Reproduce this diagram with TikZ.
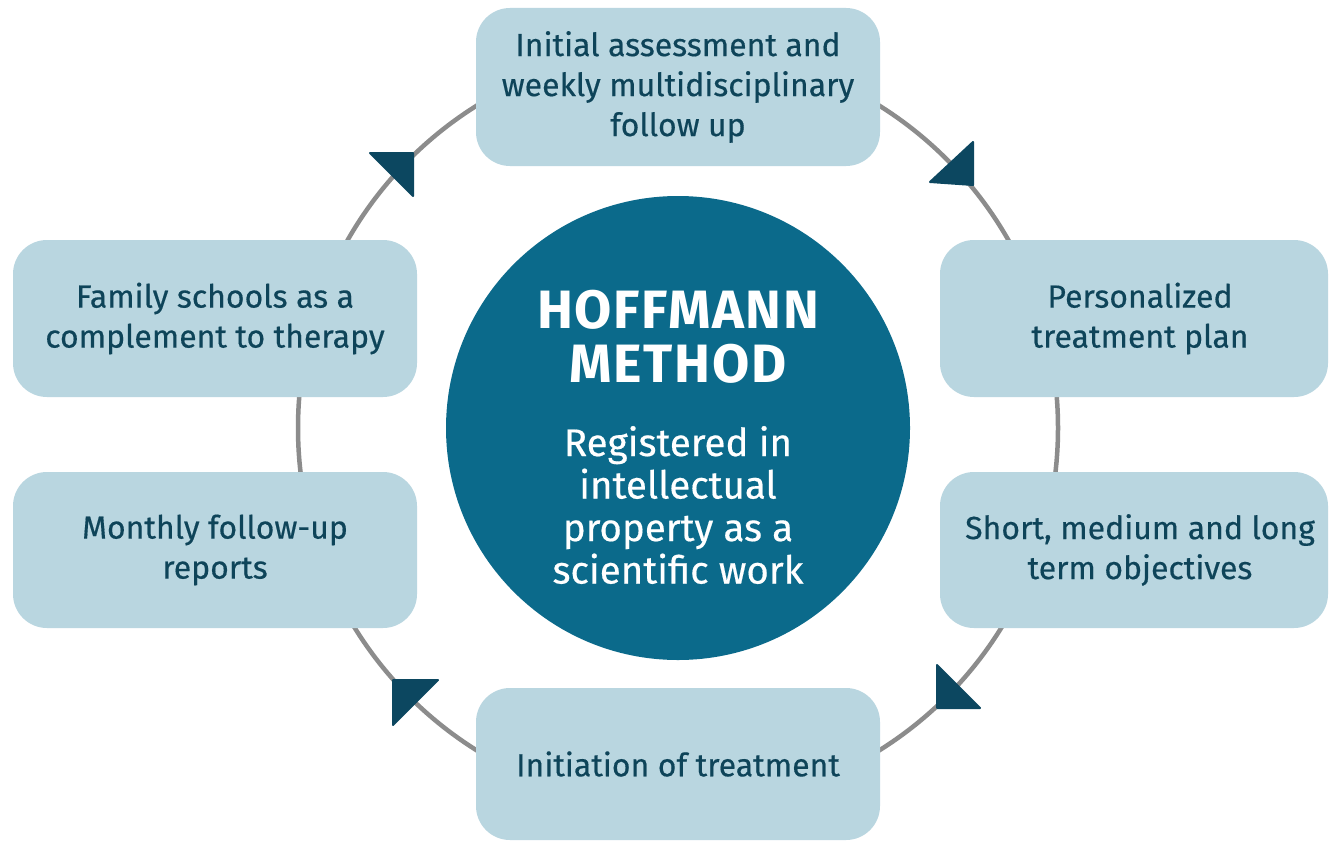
\documentclass[tikz,border=0pt]{standalone}
\usepackage{fontspec}
\setmainfont{Fira Sans}[FakeBold=0.4]
\newfontfamily\titlefont{Fira Sans}[LetterSpace=3]
\definecolor{boxfill}{HTML}{B9D6E0}
\definecolor{hubfill}{HTML}{0B6A8B}
\definecolor{arrowfill}{HTML}{0C4760}
\definecolor{txt}{HTML}{0E4459}
\definecolor{ring}{HTML}{8C8C8C}
\tikzset{
  stagebox/.style={rectangle, rounded corners=34pt, fill=boxfill, inner sep=0pt,
    minimum width=404pt, align=center, text=txt,
    font=\fontsize{32pt}{40pt}\selectfont},
  tri/.style={fill=arrowfill, draw=arrowfill, line width=2pt, line join=round},
}
\begin{document}
\begin{tikzpicture}[x=1pt,y=-1pt]
\useasboundingbox (0,0) rectangle (1330,843);
\fill[white] (0,0) rectangle (1330,843);
% ring
\draw[ring, line width=4.5pt] (678,428) circle[radius=380];
% arrowheads
\fill[tri] (413,153) -- (370,153) -- (413,196) -- cycle;
\fill[tri] (973,185) -- (930,182) -- (973,142) -- cycle;
\fill[tri] (937,708) -- (937,665) -- (980,708) -- cycle;
\fill[tri] (393,680) -- (438,680) -- (393,725) -- cycle;
% boxes
\node[stagebox, minimum height=158pt] (top) at (678,87) {Initial assessment and\\weekly multidisciplinary\\follow up};
\node[stagebox, minimum height=157pt] (lt) at (215,318.5) {Family schools as a\\complement to therapy};
\node[stagebox, minimum height=156pt] (lb) at (215,550) {Monthly follow-up\\reports};
\node[stagebox, minimum height=157pt, minimum width=388pt] (rt) at (1134,318.5) {\hspace*{12pt}Personalized\\\hspace*{12pt}treatment plan};
\node[stagebox, minimum height=156pt, minimum width=388pt] (rb) at (1134,550) {\hspace*{12pt}Short, medium and long\\\hspace*{12pt}term objectives};
\node[stagebox, minimum height=152pt] (bot) at (678,764) {Initiation of treatment};
% hub
\node[circle, fill=hubfill, minimum size=464pt, inner sep=0pt] (hub) at (678,428) {};
\node[text=white, align=center, font=\titlefont\bfseries\fontsize{54pt}{54pt}\selectfont] (title) at (678,337) {HOFFMANN\\METHOD};
\node[text=white, align=center, font=\fontsize{38.5pt}{42.5pt}\selectfont] (sub) at (678,505) {Registered in\\intellectual\\property as a\\scientific work};
\end{tikzpicture}
\end{document}
